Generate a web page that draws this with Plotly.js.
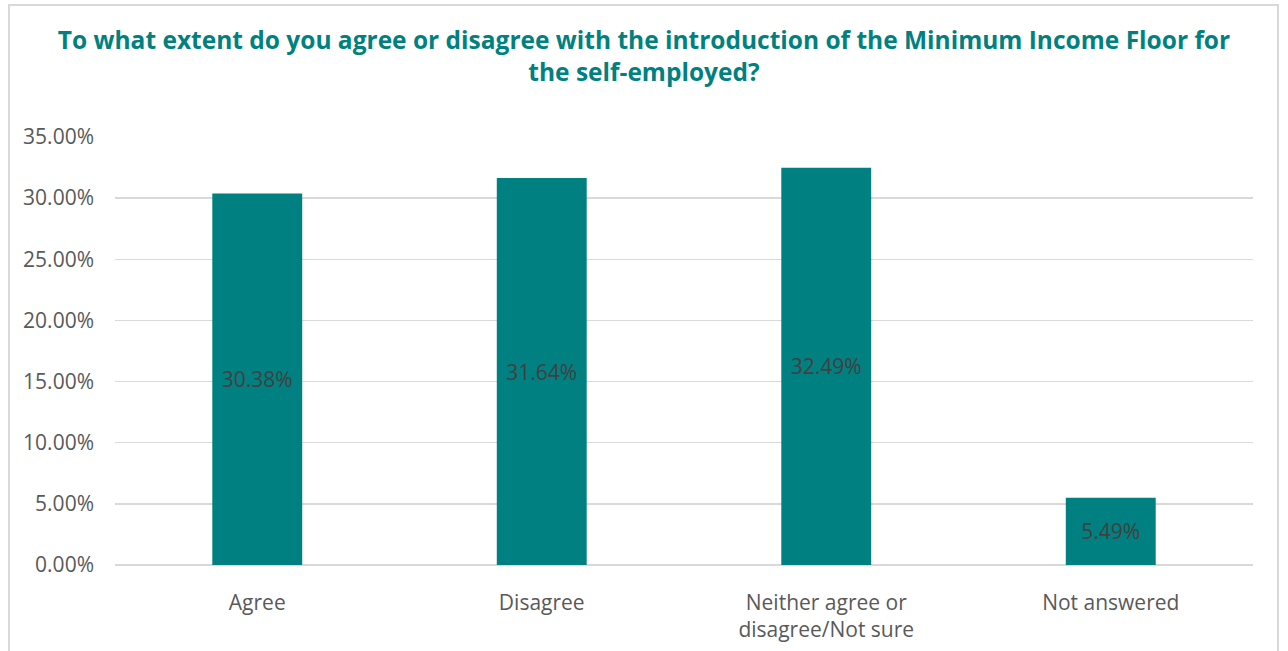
<!DOCTYPE html>
<html>
<head>
<meta charset="utf-8">
<script src="https://cdn.plot.ly/plotly-3.0.1.min.js"></script>
<style>
  html, body { margin: 0; padding: 0; background: #ffffff; overflow: hidden; }
  #chart { width: 1288px; height: 651px; position: absolute; left: 0; top: 0; }
  #frame { position: absolute; left: 8px; top: 4px; width: 1271px; height: 700px;
           border: 2px solid #d9d9d9; box-sizing: border-box; pointer-events: none; }
</style>
</head>
<body>
<div id="chart"></div>
<div id="frame"></div>
<script>
const categories = ["Agree", "Disagree", "Neither agree or<br>disagree/Not sure", "Not answered"];
const values = [30.38, 31.64, 32.49, 5.49];
const valueLabels = ["30.38%", "31.64%", "32.49%", "5.49%"];
const tickValues = [0, 5, 10, 15, 20, 25, 30, 35];
const tickLabels = ["0.00%", "5.00%", "10.00%", "15.00%", "20.00%", "25.00%", "30.00%", "35.00%"];
const titleText = "To what extent do you agree or disagree with the introduction of the Minimum Income Floor for<br>the self-employed?";

const trace = {
  type: "bar",
  x: categories,
  y: values,
  text: valueLabels,
  textposition: "inside",
  insidetextanchor: "middle",
  textangle: 0,
  textfont: { family: "Open Sans", size: 21, color: "#404040" },
  marker: { color: "#008080" },
  width: 0.316,
  hoverinfo: "skip",
  cliponaxis: false
};

const layout = {
  width: 1288,
  height: 651,
  margin: { l: 115, r: 35, t: 137, b: 86 },
  paper_bgcolor: "rgba(0,0,0,0)",
  plot_bgcolor: "rgba(0,0,0,0)",
  showlegend: false,
  title: {
    text: titleText,
    font: { family: "Open Sans", size: 24.5, color: "#00807f", weight: "bold" },
    x: 0.5, xref: "container", xanchor: "center",
    y: 1 - 49 / 651, yref: "container", yanchor: "middle"
  },
  xaxis: {
    type: "category",
    range: [-0.5, 3.5],
    showgrid: false,
    showline: false,
    zeroline: false,
    ticks: "",
    tickfont: { family: "Open Sans", size: 21, color: "#595959" },
    ticklabelstandoff: 23
  },
  yaxis: {
    range: [0, 35],
    tickvals: tickValues,
    ticktext: tickLabels,
    showgrid: true,
    gridcolor: "#d9d9d9",
    gridwidth: 1.5,
    zeroline: true,
    zerolinecolor: "#d9d9d9",
    zerolinewidth: 1.5,
    showline: false,
    ticks: "",
    tickfont: { family: "Open Sans", size: 21, color: "#595959" },
    ticklabelstandoff: 20
  }
};

Plotly.newPlot("chart", [trace], layout, { displayModeBar: false, staticPlot: true });
</script>
</body>
</html>
